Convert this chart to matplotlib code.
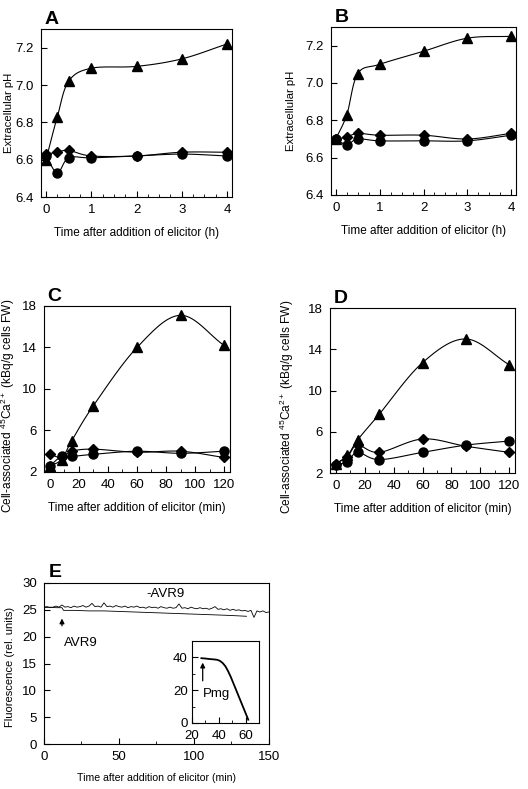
import matplotlib
matplotlib.use("Agg")
import matplotlib.pyplot as plt
import numpy as np
from matplotlib.ticker import MultipleLocator

plt.rcParams['font.family'] = ['Liberation Sans', 'DejaVu Sans']
plt.rcParams['font.size'] = 9.5
plt.rcParams['mathtext.fontset'] = 'custom'
plt.rcParams['mathtext.rm'] = 'Liberation Sans'

# panel A / B: pH (time in h)
t_h = [0, 0.25, 0.5, 1, 2, 3, 4]
A_tri = [6.60, 6.83, 7.02, 7.09, 7.10, 7.14, 7.22]
A_dia = [6.63, 6.64, 6.65, 6.62, 6.62, 6.64, 6.64]
A_cir = [6.62, 6.53, 6.61, 6.61, 6.62, 6.63, 6.62]
B_tri = [6.70, 6.83, 7.05, 7.10, 7.17, 7.24, 7.25]
B_dia = [6.70, 6.71, 6.73, 6.72, 6.72, 6.70, 6.73]
B_cir = [6.70, 6.67, 6.70, 6.69, 6.69, 6.69, 6.72]

# panel C / D: 45Ca uptake (time in min)
t_min = [0, 8, 15, 30, 60, 90, 120]
C_tri = [2.6, 3.2, 5.0, 8.4, 14.0, 17.1, 14.2]
C_dia = [3.7, 3.4, 4.0, 4.2, 3.9, 4.0, 3.4]
C_cir = [2.6, 3.5, 3.5, 3.7, 4.0, 3.8, 4.0]
D_tri = [2.9, 3.7, 5.2, 7.7, 12.7, 15.0, 12.5]
D_dia = [2.9, 3.6, 4.7, 4.0, 5.3, 4.6, 4.0]
D_cir = [2.8, 3.1, 4.0, 3.3, 4.0, 4.7, 5.1]

# panel E: fluorescence traces (read every 2 min)
t_noavr = np.arange(0, 151, 2)
f_noavr = [25.5, 25.6, 25.4, 25.5, 25.7, 25.5, 25.9, 25.5, 25.6, 25.4,
           25.7, 25.5, 25.6, 25.8, 25.5, 25.7, 26.2, 25.6, 25.7, 25.5,
           26.3, 25.6, 25.7, 25.5, 25.8, 25.6, 25.5, 25.7, 25.4, 25.6,
           25.5, 25.7, 25.4, 25.5, 25.3, 25.6, 25.4, 25.5, 25.3, 25.6,
           25.4, 25.3, 25.5, 25.3, 25.4, 26.1, 25.3, 25.4, 25.2, 25.5,
           25.3, 25.2, 25.4, 25.2, 25.3, 25.1, 25.3, 25.6, 25.1, 25.2,
           25.0, 25.2, 24.9, 25.1, 24.9, 25.0, 24.8, 24.9, 24.7, 24.9,
           23.6, 24.8, 24.6, 24.8, 24.5, 24.6]
t_avr = [0, 4, 8, 12, 13, 20, 30, 40, 50, 60, 70, 80, 90, 100, 110, 120, 128, 135]
f_avr = [25.4, 25.5, 25.4, 25.4, 24.9, 24.9, 24.8, 24.8, 24.7, 24.6, 24.5,
         24.4, 24.3, 24.2, 24.1, 24.0, 23.9, 23.8]
t_pmg = [27, 30, 33, 36, 39, 41, 43, 45, 47, 49, 51, 53, 55, 57, 59, 61, 62]
f_pmg = [39.5, 39.3, 39.0, 38.8, 38.5, 37.8, 36.5, 34.5, 31.5, 28.0, 24.0,
         20.0, 16.0, 12.0, 8.0, 4.0, 2.0]


def smooth(x, y, n=20):
    # Catmull-Rom curve through the data, only for drawing the connecting line
    x = np.asarray(x, float); y = np.asarray(y, float)
    px = np.concatenate([[2*x[0]-x[1]], x, [2*x[-1]-x[-2]]])
    py = np.concatenate([[2*y[0]-y[1]], y, [2*y[-1]-y[-2]]])
    xs, ys = [], []
    s = np.linspace(0, 1, n)
    for i in range(1, len(px)-2):
        for p, out in ((px, xs), (py, ys)):
            p0, p1, p2, p3 = p[i-1], p[i], p[i+1], p[i+2]
            out.extend(0.5*((2*p1) + (-p0+p2)*s + (2*p0-5*p1+4*p2-p3)*s**2
                            + (-p0+3*p1-3*p2+p3)*s**3))
    return xs, ys


def series(ax, x, y, marker, ms):
    sx, sy = smooth(x, y)
    ax.plot(sx, sy, color='black', lw=0.8)
    ax.plot(x, y, linestyle='None', marker=marker, color='black', ms=ms)


def style(ax):
    ax.tick_params(direction='in', which='both', top=False, right=False,
                   labelsize=9.5, pad=5)
    ax.tick_params(which='major', length=4)
    ax.tick_params(which='minor', length=2.5)
    for sp in ax.spines.values():
        sp.set_linewidth(0.8)


fig = plt.figure(figsize=(5.28, 7.89), dpi=100)

axA = fig.add_axes([0.0777, 0.7503, 0.3617, 0.2129])
axB = fig.add_axes([0.6269, 0.7529, 0.3504, 0.2129])
for ax, tri, dia, cir, lab, lx in ((axA, A_tri, A_dia, A_cir, 'A', -0.14),
                                   (axB, B_tri, B_dia, B_cir, 'B', -0.19)):
    series(ax, t_h, cir, 'o', 6.5)
    series(ax, t_h, dia, 'D', 5.5)
    series(ax, t_h, tri, '^', 6.5)
    ax.set_xlim(-0.11, 4.11)
    ax.set_ylim(6.4, 7.3)
    ax.set_yticks([6.4, 6.6, 6.8, 7.0, 7.2])
    ax.set_xticks([0, 1, 2, 3, 4])
    ax.xaxis.set_minor_locator(MultipleLocator(0.25))
    ax.set_ylabel('Extracellular pH', fontsize=8.2)
    ax.yaxis.set_label_coords(lx, 0.5)
    ax.set_xlabel('Time after addition of elicitor (h)', fontsize=8.5, labelpad=8)
    ax.text(0.02, 1.03, lab, transform=ax.transAxes, fontsize=14, fontweight='bold')
    style(ax)

axC = fig.add_axes([0.0833, 0.4018, 0.3523, 0.2104])
axD = fig.add_axes([0.625, 0.4005, 0.3504, 0.2091])
for ax, tri, dia, cir, lab, lx in ((axC, C_tri, C_dia, C_cir, 'C', -0.145),
                                   (axD, D_tri, D_dia, D_cir, 'D', -0.185)):
    series(ax, t_min, cir, 'o', 6.5)
    series(ax, t_min, dia, 'D', 5.5)
    series(ax, t_min, tri, '^', 6.5)
    ax.set_xlim(-4.1, 124.1)
    ax.set_ylim(2, 18)
    ax.set_yticks([2, 6, 10, 14, 18])
    ax.set_xticks([0, 20, 40, 60, 80, 100, 120])
    ax.xaxis.set_minor_locator(MultipleLocator(10))
    ax.set_ylabel('Cell-associated $^{45}$Ca$^{2+}$ (kBq/g cells FW)', fontsize=8.6)
    ax.yaxis.set_label_coords(lx, 0.40)
    ax.set_xlabel('Time after addition of elicitor (min)', fontsize=8.5, labelpad=8)
    ax.text(0.02, 1.03, lab, transform=ax.transAxes, fontsize=14, fontweight='bold')
    style(ax)

axE = fig.add_axes([0.0833, 0.0570, 0.4261, 0.2041])
axE.plot(t_noavr, f_noavr, color='black', lw=0.6)
axE.plot(t_avr, f_avr, color='black', lw=0.6)
axE.set_xlim(0, 150)
axE.set_ylim(0, 30)
axE.set_yticks(range(0, 31, 5))
axE.set_xticks([0, 50, 100, 150])
axE.xaxis.set_minor_locator(MultipleLocator(25))
axE.set_ylabel('Fluorescence (rel. units)', fontsize=8.0)
axE.yaxis.set_label_coords(-0.13, 0.48)
axE.set_xlabel('Time after addition of elicitor (min)', fontsize=7.6, labelpad=7)
axE.text(68, 27.3, '-AVR9', fontsize=9.5)
axE.annotate('', xy=(12, 23.9), xytext=(12, 21.5),
             arrowprops=dict(arrowstyle='-|>', color='black', lw=0.9, mutation_scale=7))
axE.text(13, 18.2, 'AVR9', fontsize=9.5)
axE.text(0.02, 1.04, 'E', transform=axE.transAxes, fontsize=14, fontweight='bold')
style(axE)

axI = fig.add_axes([0.3636, 0.0837, 0.1269, 0.1039])
axI.plot(t_pmg, f_pmg, color='black', lw=1.3)
axI.set_xlim(20, 70)
axI.set_ylim(0, 50)
axI.set_xticks([20, 40, 60])
axI.set_yticks([0, 20, 40])
axI.xaxis.set_minor_locator(MultipleLocator(10))
axI.yaxis.set_minor_locator(MultipleLocator(10))
axI.annotate('', xy=(28, 38.5), xytext=(28, 24),
             arrowprops=dict(arrowstyle='-|>', color='black', lw=0.9, mutation_scale=7))
axI.text(28.5, 16, 'Pmg', fontsize=9.5)
style(axI)
axI.tick_params(axis='y', pad=3)
axI.tick_params(axis='x', pad=5)

fig.savefig('out.png', dpi=100)
